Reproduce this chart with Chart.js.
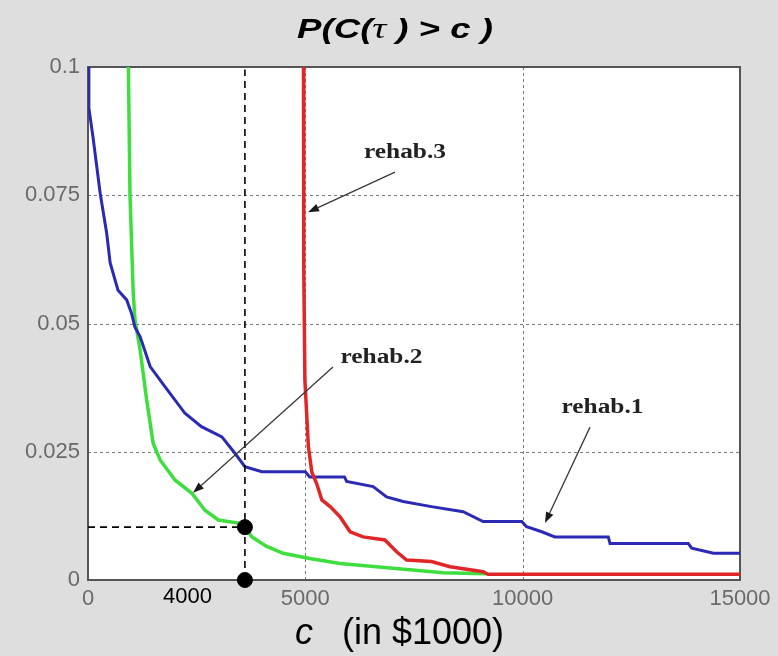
<!DOCTYPE html>
<html>
<head>
<meta charset="utf-8">
<script src="https://cdn.jsdelivr.net/npm/chart.js@4.4.1/dist/chart.umd.min.js"></script>
<style>
html,body{margin:0;padding:0;background:#dedede;}
#wrap{width:778px;height:656px;position:relative;}
</style>
</head>
<body>
<div id="wrap"><canvas id="c" width="778" height="656"></canvas></div>
<script>
// ---- data ----
const rehab1C = [0, 20, 120, 280, 430, 510, 690, 890, 1000, 1080, 1200, 1430, 1770, 2230, 2610, 3080, 3380, 3610, 4000, 5000, 5100, 5900, 5950, 6560, 6870, 7250, 7900, 8630, 9090, 9980, 10090, 10440, 10740, 11970, 12010, 13810, 13890, 14390, 15000];
const rehab1P = [0.1, 0.092, 0.086, 0.0754, 0.0676, 0.0618, 0.0565, 0.0546, 0.052, 0.0493, 0.0474, 0.0416, 0.0377, 0.0325, 0.0299, 0.0279, 0.0247, 0.0221, 0.0211, 0.0211, 0.0201, 0.0201, 0.0192, 0.0182, 0.0162, 0.0153, 0.0143, 0.0133, 0.0114, 0.0114, 0.0104, 0.0094, 0.0084, 0.0084, 0.0071, 0.0071, 0.0062, 0.0052, 0.0052];

const rehab2C = [915, 966, 1040, 1080, 1200, 1350, 1500, 1660, 2000, 2390, 2690, 3000, 3460, 3610, 3770, 4100, 4490, 5100, 5800, 7020, 8170, 9150];
const rehab2P = [0.11, 0.075, 0.056, 0.0507, 0.0448, 0.0351, 0.0266, 0.0234, 0.0195, 0.0169, 0.0136, 0.0117, 0.0111, 0.0103, 0.0084, 0.0066, 0.0052, 0.0042, 0.0032, 0.0023, 0.0014, 0.0012];

const rehab3C = [4955, 4965, 4990, 5070, 5150, 5260, 5380, 5570, 5800, 6030, 6330, 6830, 7100, 7330, 7900, 8330, 9090, 9200, 15000];
const rehab3P = [0.11, 0.06, 0.039, 0.026, 0.021, 0.0188, 0.0156, 0.0143, 0.0123, 0.0094, 0.0084, 0.0078, 0.0055, 0.0039, 0.0036, 0.0026, 0.0016, 0.0011, 0.0011];

const xTicks = [0, 5000, 10000, 15000];
const yTicks = [0, 0.025, 0.05, 0.075, 0.1];
const xGrid = [5000, 10000];
const yGrid = [0.025, 0.05, 0.075];

const markerC = 3610;      // vertical reference line
const markerP = 0.0103;    // horizontal reference line
const markerLabel = '4000';
const markerLabelC = 2290;

const seriesNames = ['rehab.1', 'rehab.2', 'rehab.3'];
// annotation anchors in data units: text position, arrow tail, arrow head
const noteTextC = [11836, 6752, 7293];
const noteTextP = [0.03255, 0.0423, 0.0823];
const noteFromC = [11549, 5636, 7063];
const noteFromP = [0.0298, 0.0415, 0.0795];
const noteToC = [10514, 2416, 5061];
const noteToP = [0.0111, 0.0170, 0.0717];

// ---- build ----
const zip = (xs, ys) => xs.map((x, i) => ({x: x, y: ys[i]}));

const bgPlugin = {
  id: 'bg',
  beforeDraw(chart) {
    const {ctx, chartArea: a} = chart;
    ctx.save();
    ctx.fillStyle = '#dedede';
    ctx.fillRect(0, 0, chart.width, chart.height);
    ctx.fillStyle = '#ffffff';
    ctx.fillRect(a.left, a.top, a.right - a.left, a.bottom - a.top);
    ctx.restore();
  },
  beforeDatasetsDraw(chart) {
    const {ctx, chartArea: a, scales} = chart;
    ctx.save();
    ctx.strokeStyle = '#7a7a7a';
    ctx.lineWidth = 1;
    ctx.setLineDash([3, 3]);
    xGrid.forEach(v => {
      const px = Math.round(scales.x.getPixelForValue(v)) + 0.5;
      ctx.beginPath(); ctx.moveTo(px, a.top); ctx.lineTo(px, a.bottom); ctx.stroke();
    });
    yGrid.forEach(v => {
      const py = Math.round(scales.y.getPixelForValue(v)) + 0.5;
      ctx.beginPath(); ctx.moveTo(a.left, py); ctx.lineTo(a.right, py); ctx.stroke();
    });
    ctx.setLineDash([]);
    ctx.strokeStyle = '#555555';
    ctx.lineWidth = 2;
    ctx.strokeRect(a.left, a.top, a.right - a.left, a.bottom - a.top);
    ctx.restore();
  }
};

function stretchedText(ctx, text, font, xLeft, baseline, targetWidth) {
  ctx.font = font;
  const w = ctx.measureText(text).width;
  const s = targetWidth / w;
  ctx.save();
  ctx.translate(xLeft, baseline);
  ctx.scale(s, 1);
  ctx.textAlign = 'left';
  ctx.textBaseline = 'alphabetic';
  ctx.fillText(text, 0, 0);
  ctx.restore();
}

function arrow(ctx, x1, y1, x2, y2) {
  const ang = Math.atan2(y2 - y1, x2 - x1);
  const L = 11, W = 4;
  const bx = x2 - L * Math.cos(ang), by = y2 - L * Math.sin(ang);
  ctx.beginPath(); ctx.moveTo(x1, y1); ctx.lineTo(bx, by); ctx.stroke();
  ctx.beginPath();
  ctx.moveTo(x2, y2);
  ctx.lineTo(bx + W * Math.sin(ang), by - W * Math.cos(ang));
  ctx.lineTo(bx - W * Math.sin(ang), by + W * Math.cos(ang));
  ctx.closePath(); ctx.fill();
}

const notePlugin = {
  id: 'notes',
  afterDatasetsDraw(chart) {
    const {ctx, scales} = chart;
    const X = v => scales.x.getPixelForValue(v), Y = v => scales.y.getPixelForValue(v);
    ctx.save();
    ctx.strokeStyle = '#3a3a3a';
    ctx.fillStyle = '#1a1a1a';
    ctx.lineWidth = 1.3;
    seriesNames.forEach((name, i) => {
      arrow(ctx, X(noteFromC[i]), Y(noteFromP[i]), X(noteToC[i]), Y(noteToP[i]));
      const tw = 82;
      ctx.fillStyle = '#222222';
      stretchedText(ctx, name, 'bold 20px "Liberation Serif"', X(noteTextC[i]) - tw / 2, Y(noteTextP[i]), tw);
      ctx.fillStyle = '#1a1a1a';
    });
    ctx.restore();
  },
  afterDraw(chart) {
    const {ctx, scales, chartArea: a} = chart;
    ctx.save();
    ctx.fillStyle = '#000000';
    // marker label under the axis
    ctx.font = '22px "Liberation Sans"';
    ctx.textAlign = 'center';
    ctx.textBaseline = 'alphabetic';
    ctx.fillText(markerLabel, scales.x.getPixelForValue(markerLabelC), a.bottom + 23);
    // title P(C(τ) > c )
    const parts = [
      {t: 'P(C(', f: 'italic bold 28px "Liberation Sans"'},
      {t: '\u03C4 ', f: 'italic 30px "Liberation Serif"'},
      {t: ') > c )', f: 'italic bold 28px "Liberation Sans"'}
    ];
    let total = 0;
    parts.forEach(p => { ctx.font = p.f; p.w = ctx.measureText(p.t).width; total += p.w; });
    const targetW = 196, x0 = 297, base = 38;
    const s = targetW / total;
    ctx.translate(x0, base);
    ctx.scale(s, 1);
    ctx.textAlign = 'left';
    let cx = 0;
    parts.forEach(p => { ctx.font = p.f; ctx.fillText(p.t, cx, 0); cx += p.w; });
    ctx.restore();
    // x-axis title
    ctx.save();
    ctx.fillStyle = '#000000';
    ctx.textAlign = 'left';
    ctx.textBaseline = 'alphabetic';
    ctx.font = 'italic 36px "Liberation Sans"';
    ctx.fillText('c', 295, 644);
    ctx.font = '36px "Liberation Sans"';
    ctx.fillText('(in $1000)', 342, 644);
    ctx.restore();
  }
};

const tickFont = {family: 'Liberation Sans', size: 22};

new Chart(document.getElementById('c').getContext('2d'), {
  type: 'line',
  data: {
    datasets: [
      {label: seriesNames[0], order: 3, data: zip(rehab1C, rehab1P), borderColor: '#2a2ab4', borderWidth: 3, pointRadius: 0, tension: 0, fill: false},
      {label: seriesNames[1], order: 4, data: zip(rehab2C, rehab2P), borderColor: '#3ede3e', borderWidth: 3.5, pointRadius: 0, tension: 0, fill: false},
      {label: seriesNames[2], order: 2, data: zip(rehab3C, rehab3P), borderColor: '#e02626', borderWidth: 3.5, pointRadius: 0, tension: 0, fill: false},
      {label: 'vref', order: 1, data: [{x: markerC, y: 0}, {x: markerC, y: 0.0995}], borderColor: '#000000', borderWidth: 1.6, borderDash: [7, 5], pointRadius: 0, fill: false, clip: false},
      {label: 'href', order: 1, data: [{x: 0, y: markerP}, {x: markerC, y: markerP}], borderColor: '#000000', borderWidth: 1.6, borderDash: [7, 5], pointRadius: 0, fill: false, clip: false},
      {label: 'dots', order: 0, data: [{x: markerC, y: markerP}, {x: markerC, y: 0}], showLine: false, pointRadius: 7.5, pointBackgroundColor: '#000000', pointBorderColor: '#000000', clip: false}
    ]
  },
  options: {
    responsive: false,
    animation: false,
    devicePixelRatio: 1,
    parsing: false,
    normalized: true,
    layout: {padding: {top: 67, right: 38, left: 0, bottom: 0}},
    plugins: {legend: {display: false}, tooltip: {enabled: false}, title: {display: false}},
    scales: {
      x: {
        type: 'linear', min: 0, max: 15000,
        afterFit(s) { s.height = 76; },
        afterBuildTicks(s) { s.ticks = xTicks.map(v => ({value: v})); },
        ticks: {font: tickFont, color: '#6a6a6a', padding: 6, maxRotation: 0, autoSkip: false, callback: v => String(v)},
        grid: {display: false, drawTicks: false},
        border: {display: false}
      },
      y: {
        type: 'linear', min: 0, max: 0.1,
        afterFit(s) { s.width = 88; },
        afterBuildTicks(s) { s.ticks = yTicks.map(v => ({value: v})); },
        ticks: {font: tickFont, color: '#6a6a6a', padding: 8, autoSkip: false, callback: v => String(v)},
        grid: {display: false, drawTicks: false},
        border: {display: false}
      }
    }
  },
  plugins: [bgPlugin, notePlugin]
});
</script>
</body>
</html>
